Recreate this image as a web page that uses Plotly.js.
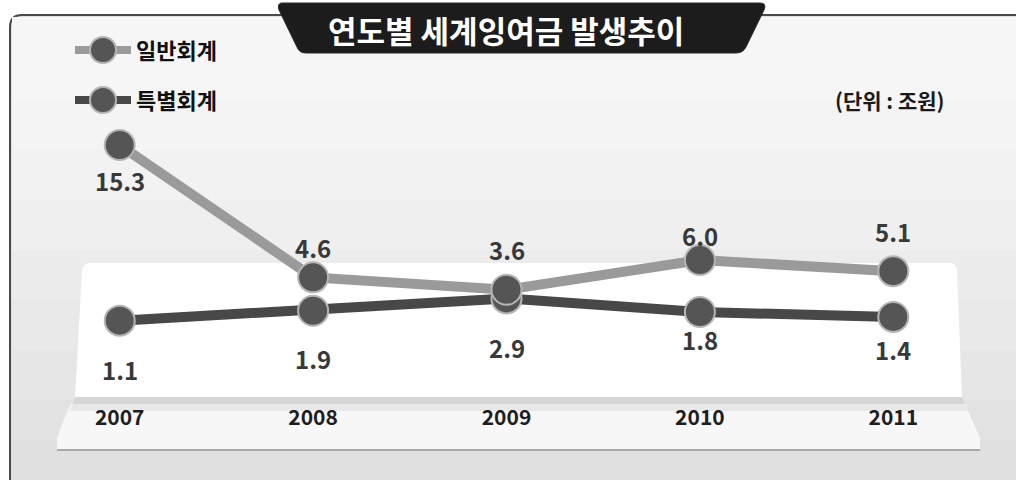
<!DOCTYPE html>
<html><head><meta charset="utf-8">
<script src="https://cdn.plot.ly/plotly-3.0.1.min.js"></script>
<style>html,body{margin:0;padding:0;background:#fff}#chart{width:1016px;height:480px}</style>
</head><body><div id="chart"></div>
<script>
// ---- data ----
const years = [2007, 2008, 2009, 2010, 2011];
const yearLabels = ['2007', '2008', '2009', '2010', '2011'];
const generalName = '일반회계';
const generalValues = [15.3, 4.6, 3.6, 6.0, 5.1];
const specialName = '특별회계';
const specialValues = [1.1, 1.9, 2.9, 1.8, 1.4];
const titleText = '연도별 세계잉여금 발생추이';
const unitText = '(단위 : 조원)';

// ---- label offsets (style only, pixels above/below each marker) ----
const generalLabelShift = [-35, 30, 40, 25, 40];
const specialLabelShift = [-49, -48, -49, -27, -33];

// ---- geometry helpers (pixel -> paper) ----
const W = 1016, H = 480;
const M = {l: 23, r: 26, t: 124, b: 121};
const PW = W - M.l - M.r, PH = H - M.t - M.b;
const X = px => (px - M.l) / PW;
const Y = py => (H - M.b - py) / PH;
function path(cmds) {
  return cmds.map(c => {
    const op = c[0]; const pts = [];
    for (let i = 1; i < c.length; i += 2) pts.push(X(c[i]).toFixed(5) + ',' + Y(c[i + 1]).toFixed(5));
    return op + ' ' + pts.join(' ');
  }).join(' ') + ' Z';
}
function rect(x0, y0, x1, y1, fill, extra) {
  return Object.assign({type: 'rect', xref: 'paper', yref: 'paper', x0: X(x0), x1: X(x1), y0: Y(y1), y1: Y(y0),
    fillcolor: fill, line: {width: 0}, layer: 'below'}, extra || {});
}
const FONT = '"Noto Sans CJK KR", "Noto Sans", sans-serif';
const LIGHT = '#9a9a9a', DARK = '#484848', MARK = '#555555', MARK_EDGE = '#b5b5b5';

const shapes = [];
// outer framed panel
shapes.push({type: 'path', xref: 'paper', yref: 'paper', layer: 'below',
  path: path([['M', 10, 490], ['L', 10, 27], ['Q', 10, 15, 22, 15], ['L', 1030, 15], ['L', 1030, 490]]),
  fillcolor: '#e0e0e0', line: {color: '#4a4a4a', width: 2}});
// soft vertical gradient bands
const bandCols = ['#e3e3e3', '#e6e6e6', '#e9e9e9', '#ececec', '#efefef', '#f2f2f2', '#f4f4f4', '#f6f6f6'];
const bandBottoms = [440, 400, 350, 300, 250, 200, 150, 100];
bandCols.forEach((c, i) => shapes.push(rect(12, 17, 1016, bandBottoms[i], c)));
// platform top surface
shapes.push({type: 'path', xref: 'paper', yref: 'paper', layer: 'below',
  path: path([['M', 90, 263], ['L', 950, 263], ['Q', 957, 263, 957, 272], ['L', 962, 397], ['L', 75, 397], ['L', 82, 272], ['Q', 83, 263, 90, 263]]),
  fillcolor: '#ffffff', line: {width: 0}});
// platform front band
shapes.push({type: 'path', xref: 'paper', yref: 'paper', layer: 'below',
  path: path([['M', 75, 397], ['L', 962, 397], ['L', 980, 438], ['L', 980, 449], ['L', 57, 449], ['L', 57, 440], ['Q', 62, 420, 75, 397]]),
  fillcolor: '#f7f7f7', line: {width: 0}});
shapes.push({type: 'path', xref: 'paper', yref: 'paper', layer: 'below',
  path: path([['M', 75, 397], ['L', 962, 397], ['L', 965, 404], ['L', 72, 404]]),
  fillcolor: '#d6d6d6', line: {width: 0}});
shapes.push({type: 'path', xref: 'paper', yref: 'paper', layer: 'below',
  path: path([['M', 72, 404], ['L', 965, 404], ['L', 968, 411], ['L', 70, 411]]),
  fillcolor: '#e8e8e8', line: {width: 0}});
shapes.push({type: 'line', xref: 'paper', yref: 'paper', layer: 'below',
  x0: X(57), x1: X(980), y0: Y(450), y1: Y(450), line: {color: '#a8a8a8', width: 2}});
// title tab
shapes.push({type: 'path', xref: 'paper', yref: 'paper', layer: 'above',
  path: path([['M', 282, 3], ['L', 760, 3], ['Q', 767, 3, 764, 10], ['L', 746, 47], ['Q', 743, 53, 736, 53],
              ['L', 306, 53], ['Q', 299, 53, 297, 47], ['L', 279, 10], ['Q', 277, 3, 282, 3]]),
  fillcolor: '#1c1c1c', line: {color: '#2a2a2a', width: 1}});
// hand-drawn legend symbols
[[50, LIGHT], [100, DARK]].forEach(([py, col]) => {
  shapes.push({type: 'line', xref: 'paper', yref: 'paper', layer: 'above',
    x0: X(75), x1: X(131), y0: Y(py), y1: Y(py), line: {color: col, width: 8}});
  shapes.push({type: 'circle', xref: 'paper', yref: 'paper', layer: 'above',
    x0: X(90), x1: X(116), y0: Y(py + 13), y1: Y(py - 13), fillcolor: MARK, line: {color: MARK_EDGE, width: 2}});
});

const annotations = [
  {xref: 'paper', yref: 'paper', x: X(506), y: Y(29), text: '<b>' + titleText + '</b>', showarrow: false,
   xanchor: 'center', yanchor: 'middle', font: {family: FONT, size: 31, color: '#ffffff'}},
  {xref: 'paper', yref: 'paper', x: X(890), y: Y(100), text: '<b>' + unitText + '</b>', showarrow: false,
   xanchor: 'center', yanchor: 'middle', font: {family: FONT, size: 21, color: '#1a1a1a'}},
  {xref: 'paper', yref: 'paper', x: X(134), y: Y(49), text: '<b>' + generalName + '</b>', showarrow: false,
   xanchor: 'left', yanchor: 'middle', font: {family: FONT, size: 22, color: '#111111'}},
  {xref: 'paper', yref: 'paper', x: X(134), y: Y(99), text: '<b>' + specialName + '</b>', showarrow: false,
   xanchor: 'left', yanchor: 'middle', font: {family: FONT, size: 22, color: '#111111'}}
];
const labelFont = {family: FONT, size: 24, color: '#383838'};
years.forEach((yr, i) => {
  annotations.push({x: yr, y: generalValues[i], xref: 'x', yref: 'y', text: '<b>' + generalValues[i].toFixed(1) + '</b>',
    showarrow: false, yanchor: 'middle', yshift: generalLabelShift[i], font: labelFont});
  annotations.push({x: yr, y: specialValues[i], xref: 'x', yref: 'y', text: '<b>' + specialValues[i].toFixed(1) + '</b>',
    showarrow: false, yanchor: 'middle', yshift: specialLabelShift[i], font: labelFont});
});

const traces = [
  {x: years, y: specialValues, name: specialName, type: 'scatter', mode: 'lines+markers',
   line: {color: DARK, width: 10}, marker: {size: 30, color: MARK, line: {color: MARK_EDGE, width: 2}},
   cliponaxis: false, hoverinfo: 'skip'},
  {x: years, y: generalValues, name: generalName, type: 'scatter', mode: 'lines+markers',
   line: {color: LIGHT, width: 10}, marker: {size: 30, color: MARK, line: {color: MARK_EDGE, width: 2}},
   cliponaxis: false, hoverinfo: 'skip'}
];

const layout = {
  width: W, height: H, margin: M,
  paper_bgcolor: '#ffffff', plot_bgcolor: 'rgba(0,0,0,0)',
  font: {family: FONT},
  showlegend: false,
  xaxis: {range: [2006.5, 2011.5], tickvals: years, ticktext: yearLabels, showgrid: false, zeroline: false,
          showline: false, ticks: '', ticklabelstandoff: 44,
          tickfont: {family: FONT, size: 21, color: '#1e1e1e', weight: 'bold'}, fixedrange: true},
  yaxis: {range: [-2, 17], showgrid: false, zeroline: false, showline: false, showticklabels: false, ticks: '', fixedrange: true},
  shapes: shapes, annotations: annotations
};
Plotly.newPlot('chart', traces, layout, {displayModeBar: false, staticPlot: true});
</script></body></html>
